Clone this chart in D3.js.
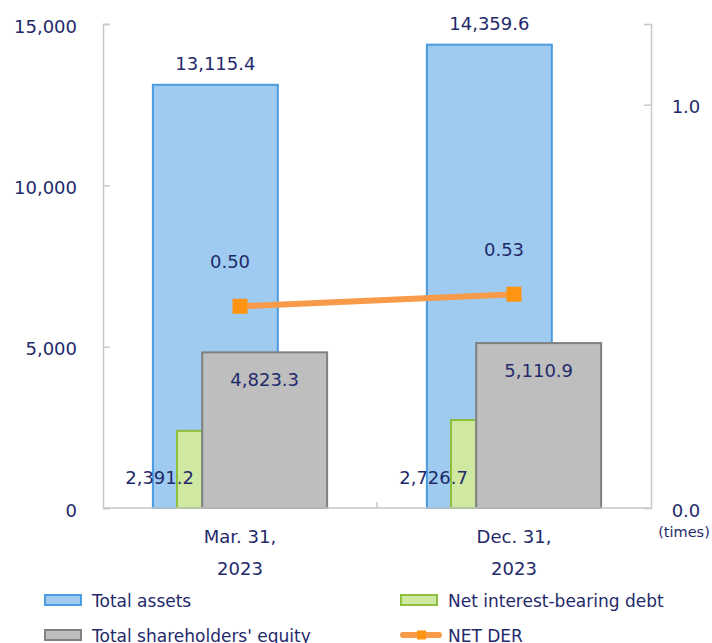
<!DOCTYPE html>
<html>
<head>
<meta charset="utf-8">
<script src="https://cdn.jsdelivr.net/npm/d3@7"></script>
<style>
  body { margin: 0; background: #fff; }
  svg text { font-family: "DejaVu Sans", Verdana, sans-serif; fill: #1f2a6b; }
</style>
</head>
<body>
<svg class="der-chart" width="712" height="643"></svg>
<script>
// data
const categories = ["Mar. 31,\n2023", "Dec. 31,\n2023"];
const totalAssets = [13115.4, 14359.6];
const netDebt = [2391.2, 2726.7];
const equity = [4823.3, 5110.9];
const netDer = [0.50, 0.53];
const leftTicks = [0, 5000, 10000, 15000];
const rightTicks = [0, 1.0];

const TEXT = "#1f2a6b";
const AXIS = "#c8c8c8";
const BLUE_FILL = "#9ecbef", BLUE_LINE = "#4a9be0";
const GREEN_FILL = "#cfe8a2", GREEN_LINE = "#8dbf3a";
const GRAY_FILL = "#bebebe", GRAY_LINE = "#808080";
const DER_LINE = "#f79a4a", DER_MARK = "#ff9412";

var svg = d3.select("svg.der-chart"),
  margin = { top: 24, right: 61, bottom: 135, left: 103 },
  width = +svg.attr("width") - margin.left - margin.right,
  height = +svg.attr("height") - margin.top - margin.bottom;

const chartG = svg
  .append("g")
  .attr("transform", `translate(${margin.left}, ${margin.top})`);

const xScale = d3.scaleBand().domain(categories).range([0, width]).padding(0);
const bw = xScale.bandwidth();
const barW = bw * 0.456;
const center = (d) => xScale(d) + bw / 2;

const yScale = d3.scaleLinear().domain([0, 15000]).range([height, 0]);
const y2Scale = d3.scaleLinear().domain([0, 1.2]).range([height, 0]);

const fmt = d3.format(",.1f");

// AXES
chartG
  .append("g")
  .attr("class", "y axis")
  .call(d3.axisLeft(yScale).tickValues(leftTicks).tickFormat(d3.format(",")).tickSize(-7).tickPadding(26))
  .call((g) => {
    g.select(".domain").attr("stroke", AXIS).attr("stroke-width", 1.5);
    g.selectAll(".tick line").attr("stroke", AXIS).attr("stroke-width", 1.5);
    g.selectAll(".tick text").attr("font-size", 18).attr("dy", "0.45em").attr("fill", TEXT);
  });

chartG
  .append("g")
  .attr("class", "y2 axis")
  .attr("transform", `translate(${width}, 0)`)
  .call(d3.axisRight(y2Scale).tickValues(rightTicks).tickFormat(d3.format(".1f")).tickSize(-7).tickPadding(29))
  .call((g) => {
    g.select(".domain").attr("stroke", AXIS).attr("stroke-width", 1.5);
    g.selectAll(".tick line").attr("stroke", AXIS).attr("stroke-width", 1.5);
    g.selectAll(".tick text").attr("font-size", 18).attr("text-anchor", "middle").attr("dx", 6).attr("dy", "0.45em").attr("fill", TEXT);
    g.selectAll(".tick:first-of-type line").remove();
  });

chartG
  .append("text")
  .attr("x", width + 33)
  .attr("y", height + 29)
  .attr("text-anchor", "middle")
  .attr("font-size", 14.5)
  .text("(times)");

// x axis
chartG
  .append("line")
  .attr("x1", bw)
  .attr("x2", bw)
  .attr("y1", height)
  .attr("y2", height - 6)
  .attr("stroke", AXIS)
  .attr("stroke-width", 1.5);

const catLabels = chartG
  .selectAll(".cat")
  .data(categories)
  .enter()
  .append("text")
  .attr("class", "cat")
  .attr("text-anchor", "middle")
  .attr("font-size", 18)
  .attr("x", (d) => center(d))
  .attr("y", height + 35);
catLabels
  .selectAll("tspan")
  .data((d) => d.split("\n"))
  .enter()
  .append("tspan")
  .attr("x", function () { return d3.select(this.parentNode).attr("x"); })
  .attr("dy", (d, i) => (i === 0 ? 0 : 32))
  .text((d) => d);

// BARS
// blue: -0.318..+0.138 of band, green: -0.23..-0.138, gray: -0.138..+0.318
chartG
  .selectAll(".assets")
  .data(categories)
  .enter()
  .append("rect")
  .attr("class", "assets")
  .attr("x", (d) => center(d) - bw * 0.318)
  .attr("y", (d, i) => yScale(totalAssets[i]))
  .attr("width", barW)
  .attr("height", (d, i) => height - yScale(totalAssets[i]))
  .attr("fill", BLUE_FILL)
  .attr("stroke", BLUE_LINE)
  .attr("stroke-width", 2);

chartG
  .selectAll(".debt")
  .data(categories)
  .enter()
  .append("rect")
  .attr("class", "debt")
  .attr("x", (d) => center(d) - bw * 0.23)
  .attr("y", (d, i) => yScale(netDebt[i]))
  .attr("width", bw * 0.092)
  .attr("height", (d, i) => height - yScale(netDebt[i]))
  .attr("fill", GREEN_FILL)
  .attr("stroke", GREEN_LINE)
  .attr("stroke-width", 2);

chartG
  .selectAll(".equity")
  .data(categories)
  .enter()
  .append("rect")
  .attr("class", "equity")
  .attr("x", (d) => center(d) - bw * 0.138)
  .attr("y", (d, i) => yScale(equity[i]))
  .attr("width", barW)
  .attr("height", (d, i) => height - yScale(equity[i]))
  .attr("fill", GRAY_FILL)
  .attr("stroke", GRAY_LINE)
  .attr("stroke-width", 2);

// axis baseline drawn over bars
chartG
  .append("line")
  .attr("x1", 0)
  .attr("x2", width)
  .attr("y1", height)
  .attr("y2", height)
  .attr("stroke", AXIS)
  .attr("stroke-width", 1.5);

// bar labels
chartG
  .selectAll(".assets-label")
  .data(categories)
  .enter()
  .append("text")
  .attr("text-anchor", "middle")
  .attr("font-size", 18)
  .attr("x", (d) => center(d) - bw * 0.318 + barW / 2)
  .attr("y", (d, i) => yScale(totalAssets[i]) - 15)
  .text((d, i) => fmt(totalAssets[i]));

chartG
  .selectAll(".equity-label")
  .data(categories)
  .enter()
  .append("text")
  .attr("text-anchor", "middle")
  .attr("font-size", 18)
  .attr("x", (d) => center(d) - bw * 0.138 + barW / 2)
  .attr("y", (d, i) => yScale(equity[i]) + 34)
  .text((d, i) => fmt(equity[i]));

chartG
  .selectAll(".debt-label")
  .data(categories)
  .enter()
  .append("text")
  .attr("text-anchor", "middle")
  .attr("font-size", 18)
  .attr("x", (d) => center(d) - bw * 0.184 - 30)
  .attr("y", height - 24)
  .text((d, i) => fmt(netDebt[i]));

// NET DER LINE
const derLine = d3
  .line()
  .x((d, i) => center(categories[i]))
  .y((d) => y2Scale(d));

chartG
  .append("path")
  .datum(netDer)
  .attr("d", derLine)
  .attr("fill", "none")
  .attr("stroke", DER_LINE)
  .attr("stroke-width", 6);

chartG
  .selectAll(".der-mark")
  .data(netDer)
  .enter()
  .append("rect")
  .attr("x", (d, i) => center(categories[i]) - 7.5)
  .attr("y", (d) => y2Scale(d) - 7.5)
  .attr("width", 15)
  .attr("height", 15)
  .attr("fill", DER_MARK);

chartG
  .selectAll(".der-label")
  .data(netDer)
  .enter()
  .append("text")
  .attr("text-anchor", "middle")
  .attr("font-size", 18)
  .attr("x", (d, i) => center(categories[i]) - 10)
  .attr("y", (d) => y2Scale(d) - 38)
  .text((d) => d3.format(".2f")(d));

// LEGEND
const legendItems = [
  { name: "Total assets", type: "bar", fill: BLUE_FILL, stroke: BLUE_LINE },
  { name: "Net interest-bearing debt", type: "bar", fill: GREEN_FILL, stroke: GREEN_LINE },
  { name: "Total shareholders' equity", type: "bar", fill: GRAY_FILL, stroke: GRAY_LINE },
  { name: "NET DER", type: "line" },
];

const legend = svg
  .selectAll(".legend")
  .data(legendItems)
  .enter()
  .append("g")
  .attr("class", "legend")
  .attr("transform", (d, i) => `translate(${i % 2 === 0 ? 45 : 401}, ${600 + Math.floor(i / 2) * 35})`);

legend
  .filter((d) => d.type === "bar")
  .append("rect")
  .attr("x", 0)
  .attr("y", -5)
  .attr("width", 36)
  .attr("height", 10)
  .attr("fill", (d) => d.fill)
  .attr("stroke", (d) => d.stroke)
  .attr("stroke-width", 2);

const lineKey = legend.filter((d) => d.type === "line");
lineKey
  .append("line")
  .attr("x1", 2)
  .attr("x2", 38)
  .attr("y1", 0)
  .attr("y2", 0)
  .attr("stroke", DER_LINE)
  .attr("stroke-width", 6)
  .attr("stroke-linecap", "round");
lineKey
  .append("rect")
  .attr("x", 16)
  .attr("y", -4.5)
  .attr("width", 9)
  .attr("height", 9)
  .attr("fill", DER_MARK);

legend
  .append("text")
  .attr("x", 47)
  .attr("y", 7)
  .attr("font-size", 17)
  .text((d) => d.name);
</script>
</body>
</html>
